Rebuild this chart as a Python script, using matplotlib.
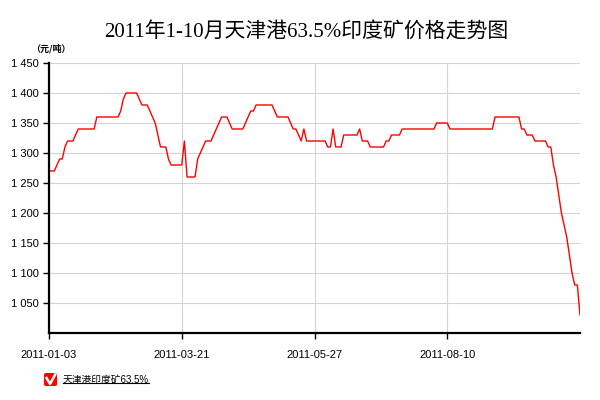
import matplotlib
matplotlib.use("Agg")
import matplotlib.pyplot as plt
from matplotlib.ticker import FuncFormatter
from matplotlib.patches import FancyBboxPatch
from matplotlib.lines import Line2D

plt.rcParams['font.family'] = ['Liberation Sans', 'Noto Sans CJK SC', 'DejaVu Sans']

# price series, one value per trading point (元/吨)
prices = [
    1270, 1270, 1270, 1280, 1290, 1290, 1310, 1320, 1320, 1320,
    1330, 1340, 1340, 1340, 1340, 1340, 1340, 1340, 1360, 1360,
    1360, 1360, 1360, 1360, 1360, 1360, 1360, 1370, 1390, 1400,
    1400, 1400, 1400, 1400, 1390, 1380, 1380, 1380, 1370, 1360,
    1350, 1330, 1310, 1310, 1310, 1290, 1280, 1280, 1280, 1280,
    1280, 1320, 1260, 1260, 1260, 1260, 1290, 1300, 1310, 1320,
    1320, 1320, 1330, 1340, 1350, 1360, 1360, 1360, 1350, 1340,
    1340, 1340, 1340, 1340, 1350, 1360, 1370, 1370, 1380, 1380,
    1380, 1380, 1380, 1380, 1380, 1370, 1360, 1360, 1360, 1360,
    1360, 1350, 1340, 1340, 1330, 1320, 1340, 1320, 1320, 1320,
    1320, 1320, 1320, 1320, 1320, 1310, 1310, 1340, 1310, 1310,
    1310, 1330, 1330, 1330, 1330, 1330, 1330, 1340, 1320, 1320,
    1320, 1310, 1310, 1310, 1310, 1310, 1310, 1320, 1320, 1330,
    1330, 1330, 1330, 1340, 1340, 1340, 1340, 1340, 1340, 1340,
    1340, 1340, 1340, 1340, 1340, 1340, 1350, 1350, 1350, 1350,
    1350, 1340, 1340, 1340, 1340, 1340, 1340, 1340, 1340, 1340,
    1340, 1340, 1340, 1340, 1340, 1340, 1340, 1340, 1360, 1360,
    1360, 1360, 1360, 1360, 1360, 1360, 1360, 1360, 1340, 1340,
    1330, 1330, 1330, 1320, 1320, 1320, 1320, 1320, 1310, 1310,
    1280, 1260, 1230, 1200, 1180, 1160, 1130, 1100, 1080, 1080,
    1030,
]
x_labels = ["2011-01-03", "2011-03-21", "2011-05-27", "2011-08-10"]
label_step = 50
y_ticks = [1050, 1100, 1150, 1200, 1250, 1300, 1350, 1400, 1450]

title = "2011年1-10月天津港63.5%印度矿价格走势图"
unit = "（元/吨）"
series_name = "天津港印度矿63.5%"

fig = plt.figure(figsize=(6, 4), dpi=100)
ax = fig.add_axes([49/600, 1 - 333/400, 531/600, 270/400])

ax.plot(range(len(prices)), prices, color='#ff0000', lw=1.0)

ax.set_xlim(0, len(prices) - 1)
ax.set_ylim(1000, 1450)
ax.set_yticks(y_ticks)
ax.yaxis.set_major_formatter(FuncFormatter(lambda v, p: f"{int(v):,}".replace(",", " ")))
ax.set_xticks([i * label_step for i in range(len(x_labels))])
ax.set_xticklabels(x_labels)

ax.grid(True, color='#d4d4d4', lw=0.8)
ax.set_axisbelow(True)
for s in ['top', 'right']:
    ax.spines[s].set_visible(False)
for s in ['left', 'bottom']:
    ax.spines[s].set_linewidth(1.6)
ax.tick_params(axis='both', length=4, width=1, labelsize=8, colors='black')
ax.tick_params(axis='x', pad=8)

fig.text(0.51, 0.92, title, ha='center', va='center', fontsize=15,
         family=['Liberation Serif', 'Noto Sans CJK SC'])
fig.text(0.052, 0.878, unit, ha='left', va='center', fontsize=6.5, fontweight='bold',
         family=['Noto Sans CJK SC'])

# legend: red checkbox and underlined name
box = FancyBboxPatch((44/600, 1 - 386/400), 13/600, 13/400,
                     boxstyle="round,pad=0,rounding_size=0.004",
                     transform=fig.transFigure, facecolor='#ff0000', edgecolor='none')
fig.patches.append(box)
fig.lines.append(Line2D([46.5/600, 50/600, 55.5/600],
                        [1 - 378/400, 1 - 384/400, 1 - 374/400],
                        transform=fig.transFigure, color='white', lw=1.8))
txt = fig.text(63/600, 1 - 380/400, series_name, ha='left', va='center', fontsize=7)
fig.canvas.draw()
bb = txt.get_window_extent().transformed(fig.transFigure.inverted())
fig.lines.append(Line2D([bb.x0, bb.x1], [bb.y0 + 0.004, bb.y0 + 0.004],
                        transform=fig.transFigure, color='black', lw=0.8))

fig.savefig("out.png", dpi=100)
